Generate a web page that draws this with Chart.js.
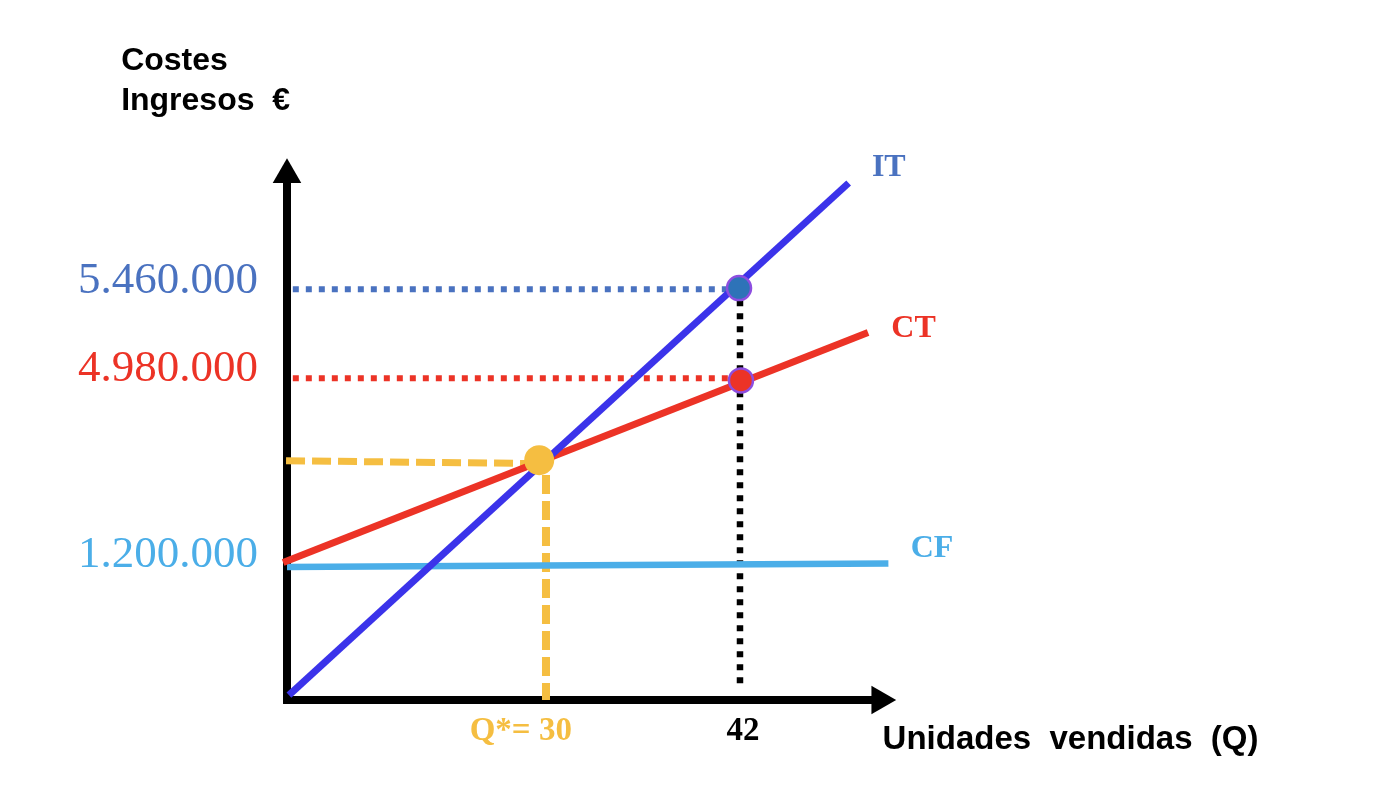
<!DOCTYPE html>
<html lang="es">
<head>
<meta charset="utf-8">
<title>Punto muerto</title>
<script src="https://cdn.jsdelivr.net/npm/chart.js@4.4.1/dist/chart.umd.min.js"></script>
<style>
  html, body { margin: 0; padding: 0; background: #fff; }
  #wrap { width: 1374px; height: 804px; position: relative; }
</style>
</head>
<body>
<div id="wrap"><canvas id="chart"></canvas></div>
<script>
// The drawing is schematic, not to scale: x runs 0..100 across the plot,
// y runs 0..100 from the horizontal axis up. Labels carry the real figures.
const qTickText = ['Q*= 30', '42'];
const qTickPos = [24.1, 47.0];
const eurTickText = ['5.460.000', '4.980.000', '1.200.000'];
const eurTickPos = [76.2, 60.2, 26.4];

// IT (ingresos totales), CT (costes totales), CF (costes fijos)
const itX = [0.2, 57.9];  const itY = [0.9, 94.0];
const ctX = [-0.4, 59.9]; const ctY = [25.0, 66.8];
const cfX = [0.0, 62.0];  const cfY = [24.2, 24.8];

// marked points
const breakEven = { x: 26.0, y: 43.6 };
const itAt42 = { x: 46.6, y: 74.9 };
const ctAt42 = { x: 46.8, y: 58.1 };

// reference lines
const itGuideX = [0.6, 45.7];   const itGuideY = [74.7, 74.7];
const ctGuideX = [0.6, 45.9];   const ctGuideY = [58.5, 58.5];
const q42GuideX = [46.7, 46.7]; const q42GuideY = [72.7, 2.2];
const beGuideHX = [-0.1, 25.0]; const beGuideHY = [43.5, 43.0];
const beGuideVX = [26.7, 26.7]; const beGuideVY = [40.9, 0];

// axes with arrow heads
const xAxisX = [-0.4, 61.1]; const xAxisY = [0, 0];
const yAxisX = [0, 0];       const yAxisY = [-0.7, 95.5];

const BLUE = '#3b33ea', RED = '#ec3326', SKY = '#4baee8', STEEL = '#4a72c0', GOLD = '#f5be41';
const qTickColors = [GOLD, '#000'];
const eurTickColors = [STEEL, RED, SKY];

const notes = [
  { text: 'Costes', x: -17.1, y: 114.5, font: 'bold 32px "Liberation Sans"', color: '#000' },
  { text: 'Ingresos  €', x: -17.1, y: 107.3, font: 'bold 32px "Liberation Sans"', color: '#000' },
  { text: 'IT', x: 60.3, y: 95.3, font: 'bold 32px "Liberation Serif"', color: STEEL },
  { text: 'CT', x: 62.3, y: 66.0, font: 'bold 32px "Liberation Serif"', color: RED },
  { text: 'CF', x: 64.3, y: 26.0, font: 'bold 32px "Liberation Serif"', color: SKY },
  { text: 'Unidades  vendidas  (Q)', x: 61.4, y: -8.9, font: 'bold 33px "Liberation Sans"', color: '#000' }
];

function pts(xs, ys) {
  return xs.map((x, i) => ({ x: x, y: ys[i] }));
}

function seg(data, color, width, dash) {
  return {
    type: 'line', data: data, borderColor: color, borderWidth: width,
    borderDash: dash || [], pointRadius: 0, fill: false, tension: 0, clip: false
  };
}

function dot(p, fill, r, border) {
  return {
    type: 'scatter', data: [p], pointRadius: r, pointBackgroundColor: fill,
    pointBorderColor: border || fill, pointBorderWidth: border ? 2.5 : 0, clip: false
  };
}

function axis(data, rotation) {
  return {
    type: 'line', data: data, borderColor: '#000', borderWidth: 8, fill: false, clip: false,
    pointStyle: 'triangle', pointRadius: [0, 16.5], pointRotation: [0, rotation],
    pointBackgroundColor: '#000', pointBorderWidth: 0
  };
}

const notesPlugin = {
  id: 'notes',
  afterDatasetsDraw(chart) {
    const { ctx, scales } = chart;
    ctx.save();
    ctx.textAlign = 'left';
    ctx.textBaseline = 'alphabetic';
    notes.forEach(n => {
      ctx.font = n.font;
      ctx.fillStyle = n.color;
      ctx.fillText(n.text, scales.x.getPixelForValue(n.x), scales.y.getPixelForValue(n.y));
    });
    ctx.restore();
  }
};

new Chart(document.getElementById('chart'), {
  data: {
    datasets: [
      dot(breakEven, GOLD, 15),
      dot(itAt42, '#2e73b8', 12, '#8d4ee0'),
      dot(ctAt42, RED, 12, '#8d4ee0'),
      seg(pts(itX, itY), BLUE, 7),
      seg(pts(ctX, ctY), RED, 7),
      seg(pts(cfX, cfY), SKY, 6.5),
      seg(pts(itGuideX, itGuideY), STEEL, 6, [6, 7]),
      seg(pts(ctGuideX, ctGuideY), RED, 6, [6, 7]),
      seg(pts(q42GuideX, q42GuideY), '#000', 6.5, [6, 7]),
      seg(pts(beGuideHX, beGuideHY), GOLD, 7, [19, 7]),
      seg(pts(beGuideVX, beGuideVY), GOLD, 8, [19, 7]),
      axis(pts(xAxisX, xAxisY), 90),
      axis(pts(yAxisX, yAxisY), 0)
    ]
  },
  options: {
    responsive: true,
    maintainAspectRatio: false,
    animation: false,
    events: [],
    layout: { padding: { left: 0, right: 117, top: 150, bottom: 0 } },
    plugins: {
      legend: { display: false },
      tooltip: { enabled: false },
      title: { display: false }
    },
    scales: {
      x: {
        type: 'linear', min: 0, max: 100, offset: false,
        grid: { display: false }, border: { display: false },
        afterFit: s => { s.height = 104; },
        afterBuildTicks: s => { s.ticks = qTickPos.map(v => ({ value: v })); },
        ticks: {
          autoSkip: false, maxRotation: 0, padding: 4,
          callback: (v, i) => qTickText[i],
          color: c => qTickColors[c.index],
          font: { family: 'Liberation Serif', size: 33, weight: 'bold' }
        }
      },
      y: {
        type: 'linear', min: 0, max: 100,
        grid: { display: false }, border: { display: false },
        afterFit: s => { s.width = 287; },
        afterBuildTicks: s => { s.ticks = eurTickPos.map(v => ({ value: v })); },
        ticks: {
          autoSkip: false, padding: 21,
          callback: (v, i) => eurTickText[i],
          color: c => eurTickColors[c.index],
          font: { family: 'Liberation Serif', size: 45 }
        }
      }
    }
  },
  plugins: [notesPlugin]
});
</script>
</body>
</html>
